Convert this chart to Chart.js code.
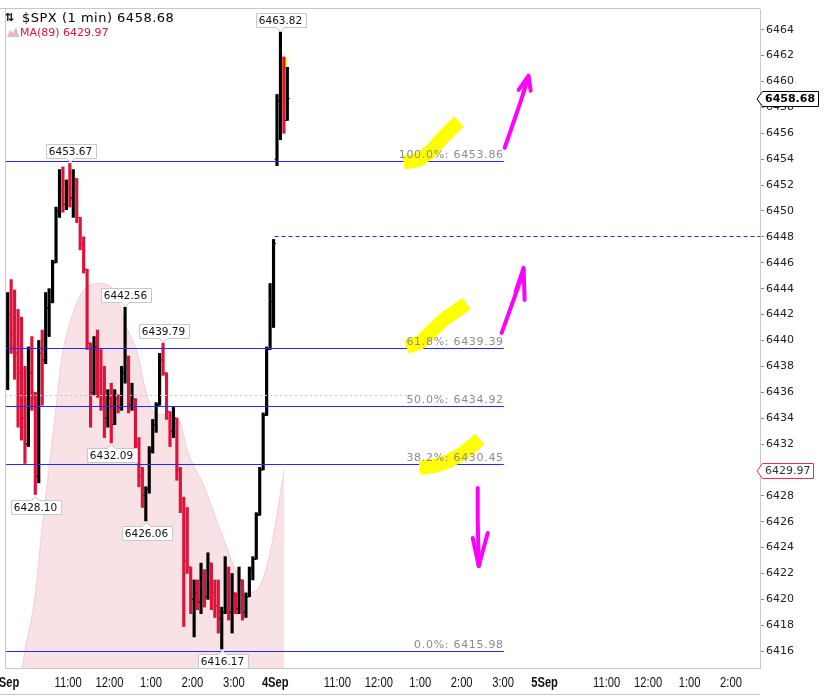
<!DOCTYPE html>
<html>
<head>
<meta charset="utf-8">
<script src="https://cdn.jsdelivr.net/npm/chart.js@4.4.1/dist/chart.umd.min.js"></script>
<style>
  html, body { margin: 0; padding: 0; background: #fff; }
</style>
</head>
<body>
<canvas id="spx" width="826" height="696"></canvas>
<script>
// minutes after 9:30 on 3 Sep; one trading day = 390 minutes
const xMin = -1.4;
const xMax = 1092;
const yMin = 6414.7;
const yMax = 6465.6;

const xTickMinutes = [0, 90, 150, 210, 270, 330, 390, 480, 540, 600, 660, 720, 780, 870, 930, 990, 1050];
const xTickLabels = ['3Sep', '11:00', '12:00', '1:00', '2:00', '3:00', '4Sep', '11:00', '12:00', '1:00', '2:00', '3:00', '5Sep', '11:00', '12:00', '1:00', '2:00'];
const yTicks = [6416, 6418, 6420, 6422, 6424, 6426, 6428, 6430, 6432, 6434, 6436, 6438, 6440,
  6442, 6444, 6446, 6448, 6450, 6452, 6454, 6456, 6458, 6460, 6462, 6464];

// 5 minute bars: 78 on 3 Sep, 4 on 4 Sep
const opens = [6438.5, 6442.0, 6440.5, 6439.0, 6437.5, 6434.0, 6432.0, 6437.5, 6435.5, 6429.5,
  6439.0, 6438.5, 6442.5, 6443.0, 6446.0, 6450.0, 6451.5, 6450.5, 6451.8, 6451.0,
  6452.5, 6449.5, 6447.5, 6445.5, 6439.8, 6436.0, 6439.5, 6437.0, 6435.5, 6434.0,
  6435.5, 6433.5, 6435.5, 6434.8, 6437.5, 6438.0, 6435.0, 6435.5, 6432.0, 6429.5,
  6428.0, 6428.5, 6431.5, 6433.5, 6435.0, 6438.5, 6437.5, 6434.5, 6433.0, 6434.0,
  6430.0, 6427.5, 6423.0, 6422.5, 6420.0, 6420.5, 6419.8, 6422.0, 6420.2, 6422.8,
  6420.5, 6419.5, 6418.5, 6419.0, 6422.0, 6419.0, 6420.5, 6419.3, 6421.5, 6419.0,
  6420.2, 6422.3, 6423.1, 6426.5, 6430.0, 6434.2, 6439.3, 6443.0,
  6454.0, 6458.5, 6461.0, 6457.0];
const highs = [6443.7, 6444.7, 6443.9, 6442.4, 6441.8, 6438.0, 6439.5, 6440.3, 6436.0, 6440.0,
  6440.8, 6443.7, 6444.0, 6446.2, 6450.3, 6453.2, 6453.4, 6452.4, 6453.67, 6453.2,
  6452.5, 6449.5, 6448.0, 6445.5, 6439.8, 6440.3, 6440.8, 6439.3, 6438.0, 6436.2,
  6436.7, 6436.2, 6435.8, 6438.0, 6442.56, 6438.8, 6436.7, 6435.5, 6432.5, 6430.2,
  6428.7, 6431.8, 6433.9, 6435.2, 6439.0, 6439.79, 6437.5, 6434.5, 6434.9, 6434.0,
  6430.2, 6427.9, 6427.1, 6422.5, 6421.5, 6421.5, 6422.8, 6422.3, 6423.6, 6422.8,
  6421.5, 6421.5, 6419.4, 6423.3, 6422.5, 6422.0, 6420.5, 6422.5, 6421.5, 6420.5,
  6422.5, 6423.3, 6426.7, 6430.2, 6434.4, 6439.5, 6444.4, 6447.8,
  6459.0, 6463.82, 6461.9, 6461.1];
const lows = [6436.2, 6439.0, 6437.0, 6433.3, 6432.3, 6430.5, 6431.8, 6434.6, 6428.1, 6429.0,
  6435.0, 6438.2, 6440.3, 6442.9, 6446.0, 6449.5, 6449.9, 6450.1, 6450.3, 6449.5,
  6449.1, 6447.0, 6445.2, 6439.3, 6433.3, 6435.8, 6435.6, 6434.6, 6432.5, 6433.3,
  6432.09, 6433.5, 6434.4, 6434.6, 6436.7, 6434.4, 6434.6, 6431.5, 6428.7, 6427.1,
  6426.06, 6428.2, 6431.3, 6432.9, 6435.0, 6437.3, 6433.9, 6431.8, 6432.5, 6429.2,
  6426.7, 6417.9, 6422.0, 6418.9, 6417.1, 6419.2, 6418.9, 6419.4, 6420.0, 6419.2,
  6418.6, 6417.4, 6416.17, 6418.9, 6418.4, 6417.4, 6418.9, 6418.9, 6418.4, 6418.6,
  6420.2, 6421.5, 6423.1, 6426.5, 6430.0, 6434.2, 6439.3, 6441.0,
  6453.5, 6455.5, 6456.0, 6457.0];
const closes = [6442.0, 6440.5, 6439.0, 6437.5, 6434.0, 6432.0, 6437.5, 6436.0, 6429.5, 6439.0,
  6438.5, 6442.5, 6443.0, 6446.0, 6450.0, 6451.5, 6450.5, 6451.8, 6451.0, 6452.5,
  6449.5, 6447.5, 6445.5, 6439.8, 6436.0, 6439.5, 6437.0, 6435.5, 6434.0, 6435.5,
  6433.5, 6435.5, 6434.8, 6437.5, 6438.0, 6435.0, 6435.5, 6432.0, 6429.5, 6428.0,
  6428.5, 6431.5, 6433.5, 6435.0, 6438.5, 6437.5, 6434.5, 6433.0, 6434.0, 6430.0,
  6427.5, 6423.0, 6422.5, 6420.0, 6420.5, 6419.8, 6422.0, 6420.2, 6422.8, 6420.5,
  6419.5, 6418.5, 6419.0, 6422.0, 6419.0, 6420.5, 6419.3, 6421.5, 6419.0, 6420.2,
  6422.3, 6423.1, 6426.5, 6430.0, 6434.2, 6439.3, 6443.0, 6447.5,
  6458.5, 6461.0, 6457.0, 6458.68];

const barTimes = [];
for (let i = 0; i < 78; i++) barTimes.push(i * 5 + 2.5);
for (let j = 0; j < 4; j++) barTimes.push(390 + j * 5 + 2.5);

// MA(89)
const maMinutes = [18, 27, 42, 52, 66, 77, 81, 95, 110, 134, 157, 172, 192, 201, 215, 221, 250,
  264, 287, 312, 331, 351, 370, 384, 399, 403];
const maValues = [6413.0, 6415.9, 6420.2, 6425.4, 6431.8, 6437.0, 6438.7, 6441.8, 6443.7, 6444.4,
  6443.9, 6441.4, 6438.7, 6436.4, 6434.4, 6434.3, 6433.9, 6431.3, 6428.7, 6425.1, 6422.5,
  6420.5, 6421.3, 6424.0, 6428.7, 6429.97];

// fibonacci retracement
const fibPct = ['100.0%', '61.8%', '50.0%', '38.2%', '0.0%'];
const fibValues = [6453.86, 6439.39, 6434.92, 6430.45, 6415.98];
const fibEnd = 721;
const prevClose = 6448.1;
const prevCloseStart = 389;
const midLine = 6435.8;
const midLineEnd = 585;

// bar indexes that carry a high / low callout
const highCallouts = [18, 34, 45, 79];
const lowCallouts = [8, 30, 40, 62];

// hand drawn marks, [minute, price]
const highlightStrokes = [
  [[576.0, 6453.72], [598.0, 6453.95], [616.0, 6454.65], [633.0, 6455.70], [648.0, 6456.50], [656.0, 6456.90]],
  [[580.0, 6439.50], [600.0, 6439.85], [618.0, 6440.80], [636.0, 6441.70], [654.0, 6442.35], [667.0, 6442.85]],
  [[599.0, 6430.15], [620.0, 6430.30], [642.0, 6430.70], [662.0, 6431.30], [676.0, 6431.90], [686.0, 6432.40]]
];
const barHighlight = [[403, 6461.84], [403, 6457.82]];
const arrowShafts = [
  [[722.2, 6454.88], [733.8, 6456.66], [745.3, 6458.44], [755.4, 6460.14]],
  [[717.9, 6440.58], [730.9, 6442.52], [742.4, 6444.22], [749.6, 6445.45]],
  [[683.2, 6428.61], [683.2, 6426.13], [684.7, 6422.58]]
];
const arrowHeads = [
  [[742.4, 6459.36], [756.9, 6460.45], [759.8, 6459.29]],
  [[738.1, 6443.75], [749.6, 6445.61], [751.1, 6443.13]],
  [[676.0, 6424.74], [684.7, 6422.58], [697.7, 6425.13]]
];

const UP = '#000000';
const DOWN = '#dc143c';
const BLUE = '#2626ff';
const FONT = '"DejaVu Sans", Verdana, sans-serif';

const barColor = i => (closes[i] >= opens[i] ? UP : DOWN);

function strokePath(ctx, x, y, pts) {
  ctx.beginPath();
  pts.forEach(([m, p], k) => {
    const px = x.getPixelForValue(m), py = y.getPixelForValue(p);
    if (k === 0) ctx.moveTo(px, py); else ctx.lineTo(px, py);
  });
  ctx.stroke();
}

function hLine(ctx, x, y, from, to, value) {
  const py = Math.round(y.getPixelForValue(value)) + 0.5;
  ctx.beginPath();
  ctx.moveTo(x.getPixelForValue(from), py);
  ctx.lineTo(x.getPixelForValue(to), py);
  ctx.stroke();
  return py;
}

function callout(ctx, px, py, text, above) {
  ctx.font = '10.5px ' + FONT;
  const w = Math.ceil(ctx.measureText(text).width) + 6, h = 14;
  px = Math.round(px) + 0.5;
  const left = Math.round(px - w / 2) + 0.5;
  const top = above ? Math.round(py - 5 - h) + 0.5 : Math.round(py + 5) + 0.5;
  ctx.beginPath();
  if (above) {
    ctx.moveTo(left, top);
    ctx.lineTo(left + w, top);
    ctx.lineTo(left + w, top + h);
    ctx.lineTo(px + 4, top + h);
    ctx.lineTo(px, top + h + 4);
    ctx.lineTo(px - 4, top + h);
    ctx.lineTo(left, top + h);
  } else {
    ctx.moveTo(left, top);
    ctx.lineTo(px - 4, top);
    ctx.lineTo(px, top - 4);
    ctx.lineTo(px + 4, top);
    ctx.lineTo(left + w, top);
    ctx.lineTo(left + w, top + h);
    ctx.lineTo(left, top + h);
  }
  ctx.closePath();
  ctx.fillStyle = '#fff';
  ctx.fill();
  ctx.strokeStyle = '#c8c8c8';
  ctx.lineWidth = 1;
  ctx.stroke();
  ctx.fillStyle = '#111';
  ctx.textAlign = 'center';
  ctx.textBaseline = 'middle';
  ctx.fillText(text, px, top + h / 2 + 0.5);
}

function priceTag(ctx, a, py, text, border, color, bold) {
  ctx.font = (bold ? 'bold ' : '') + '11px ' + FONT;
  const left = a.right + 2.5, h = 15;
  const w = Math.ceil(ctx.measureText(text).width) + 5;
  const top = Math.round(py - h / 2) + 0.5;
  ctx.beginPath();
  ctx.moveTo(a.right - 3, top + h / 2);
  ctx.lineTo(left, top);
  ctx.lineTo(left + w, top);
  ctx.lineTo(left + w, top + h);
  ctx.lineTo(left, top + h);
  ctx.closePath();
  ctx.fillStyle = '#fff';
  ctx.fill();
  ctx.strokeStyle = border;
  ctx.lineWidth = 1;
  ctx.stroke();
  ctx.fillStyle = color;
  ctx.textAlign = 'left';
  ctx.textBaseline = 'middle';
  ctx.fillText(text, left + 2.5, top + h / 2 + 0.5);
}

const overlay = {
  id: 'overlay',
  beforeDatasetsDraw(chart) {
    const { ctx, scales: { x, y } } = chart;
    ctx.save();
    ctx.strokeStyle = '#ffff00';
    ctx.lineWidth = 5;
    strokePath(ctx, x, y, barHighlight);
    ctx.restore();
  },
  afterDatasetsDraw(chart) {
    const { ctx, chartArea: a, scales: { x, y } } = chart;
    ctx.save();
    ctx.beginPath();
    ctx.rect(a.left, a.top, a.right - a.left, a.bottom - a.top);
    ctx.clip();

    ctx.lineWidth = 1;
    ctx.strokeStyle = '#c8c8c8';
    ctx.setLineDash([2, 3]);
    hLine(ctx, x, y, xMin, midLineEnd, midLine);

    ctx.strokeStyle = BLUE;
    ctx.setLineDash([4, 3]);
    hLine(ctx, x, y, prevCloseStart, xMax, prevClose);
    ctx.setLineDash([]);
    const fibY = fibValues.map(v => {
      ctx.strokeStyle = BLUE;
      return hLine(ctx, x, y, xMin, fibEnd, v);
    });

    // highlighter
    ctx.strokeStyle = '#ffff00';
    ctx.lineWidth = 14;
    ctx.lineJoin = 'round';
    highlightStrokes.forEach(s => strokePath(ctx, x, y, s));

    // fib labels
    ctx.font = '11px ' + FONT;
    if ('letterSpacing' in ctx) ctx.letterSpacing = '0.7px';
    ctx.fillStyle = '#8c8c8c';
    ctx.textAlign = 'right';
    ctx.textBaseline = 'alphabetic';
    fibValues.forEach((v, i) => {
      ctx.fillText(fibPct[i] + ': ' + v.toFixed(2), x.getPixelForValue(fibEnd), fibY[i] - 4);
    });
    if ('letterSpacing' in ctx) ctx.letterSpacing = '0px';

    // arrows
    ctx.strokeStyle = '#ff00ff';
    ctx.lineWidth = 4;
    ctx.lineCap = 'round';
    arrowShafts.forEach(s => strokePath(ctx, x, y, s));
    arrowHeads.forEach(s => strokePath(ctx, x, y, s));
    ctx.restore();

    // callouts
    ctx.save();
    highCallouts.forEach(i => callout(ctx, x.getPixelForValue(barTimes[i]), y.getPixelForValue(highs[i]), highs[i].toFixed(2), true));
    lowCallouts.forEach(i => callout(ctx, x.getPixelForValue(barTimes[i]), y.getPixelForValue(lows[i]), lows[i].toFixed(2), false));
    ctx.restore();
  },
  afterDraw(chart) {
    const { ctx, chartArea: a, scales: { x, y } } = chart;
    const last = closes.length - 1;
    ctx.save();

    // frame
    ctx.strokeStyle = '#c8c8c8';
    ctx.lineWidth = 1;
    ctx.beginPath();
    ctx.moveTo(0, a.top - 0.5); ctx.lineTo(a.right, a.top - 0.5);
    ctx.moveTo(a.left + 0.5, a.top); ctx.lineTo(a.left + 0.5, a.bottom);
    ctx.moveTo(0, chart.height - 1.5); ctx.lineTo(a.right, chart.height - 1.5);
    ctx.stroke();

    // time axis labels
    xTickMinutes.forEach((m, i) => {
      const label = xTickLabels[i];
      const isDay = label.indexOf('Sep') > 0;
      ctx.save();
      ctx.translate(x.getPixelForValue(m), a.bottom + 15);
      ctx.scale(0.8, 1);
      ctx.font = (isDay ? 'bold ' : '') + '14px "Liberation Sans", Arial, sans-serif';
      ctx.fillStyle = '#111';
      ctx.textAlign = 'center';
      ctx.textBaseline = 'middle';
      ctx.fillText(label, 0, 0);
      ctx.restore();
    });

    // price tags on the axis
    priceTag(ctx, a, y.getPixelForValue(closes[last]), closes[last].toFixed(2), '#000', '#000', true);
    const maLast = maValues[maValues.length - 1];
    priceTag(ctx, a, y.getPixelForValue(maLast), maLast.toFixed(2), '#e8304a', '#333', false);

    // legend
    ctx.textAlign = 'left';
    ctx.textBaseline = 'alphabetic';
    ctx.fillStyle = '#000';
    ctx.font = 'bold 11px ' + FONT;
    ctx.fillText('\u21c5', 5, 21);
    ctx.font = '13px ' + FONT;
    if ('letterSpacing' in ctx) ctx.letterSpacing = '0.5px';
    ctx.fillText('$SPX (1 min) ' + closes[last].toFixed(2), 22, 22);
    if ('letterSpacing' in ctx) ctx.letterSpacing = '0px';
    ctx.fillStyle = 'rgba(232,150,160,0.7)';
    ctx.beginPath();
    ctx.moveTo(7, 37); ctx.lineTo(10, 30); ctx.lineTo(13, 33); ctx.lineTo(16, 27); ctx.lineTo(19, 37);
    ctx.closePath();
    ctx.fill();
    ctx.fillStyle = DOWN;
    ctx.font = '11px ' + FONT;
    ctx.fillText('MA(89) ' + maLast.toFixed(2), 20, 36);
    ctx.restore();
  }
};

new Chart(document.getElementById('spx'), {
  type: 'bar',
  data: {
    datasets: [
      {
        type: 'bar',
        data: barTimes.map((t, i) => ({ x: t, y: [lows[i], highs[i]] })),
        backgroundColor: c => barColor(c.dataIndex),
        borderWidth: 0,
        barThickness: 2.5,
        order: 2
      },
      {
        type: 'line',
        data: barTimes.map((t, i) => ({ x: t, y: opens[i] })),
        showLine: false,
        pointStyle: 'dash',
        rotation: 180,
        pointRadius: 2.5,
        pointBorderWidth: 1,
        pointBorderColor: c => barColor(c.dataIndex),
        order: 1
      },
      {
        type: 'line',
        data: barTimes.map((t, i) => ({ x: t, y: closes[i] })),
        showLine: false,
        pointStyle: 'dash',
        rotation: 0,
        pointRadius: 2.5,
        pointBorderWidth: 1,
        pointBorderColor: c => barColor(c.dataIndex),
        order: 1
      },
      {
        type: 'line',
        data: maMinutes.map((m, i) => ({ x: m, y: maValues[i] })),
        fill: 'start',
        backgroundColor: 'rgba(235,160,168,0.3)',
        borderColor: 'rgba(225,130,145,0.3)',
        borderWidth: 1,
        pointRadius: 0,
        cubicInterpolationMode: 'monotone',
        order: 10
      }
    ]
  },
  options: {
    responsive: false,
    animation: false,
    devicePixelRatio: 1,
    layout: { padding: { left: 3, top: 9, right: 0, bottom: 0 } },
    plugins: { legend: { display: false }, tooltip: { enabled: false } },
    scales: {
      x: {
        type: 'linear',
        min: xMin,
        max: xMax,
        offset: false,
        afterBuildTicks: s => { s.ticks = xTickMinutes.map(v => ({ value: v })); },
        afterFit: s => { s.height = 28; s.paddingLeft = 0; s.paddingRight = 0; },
        grid: { display: false },
        border: { display: true, color: '#c8c8c8' },
        ticks: { display: false }
      },
      y: {
        position: 'right',
        min: yMin,
        max: yMax,
        afterBuildTicks: s => { s.ticks = yTicks.map(v => ({ value: v })); },
        afterFit: s => { s.width = 66; s.paddingTop = 0; s.paddingBottom = 0; },
        grid: { drawOnChartArea: false, drawTicks: true, tickLength: 4, color: '#888' },
        border: { display: true, color: '#c8c8c8' },
        ticks: {
          font: { family: 'DejaVu Sans', size: 11 },
          color: '#222',
          padding: 2,
          callback: v => String(v)
        }
      }
    }
  },
  plugins: [overlay]
});
</script>
</body>
</html>
